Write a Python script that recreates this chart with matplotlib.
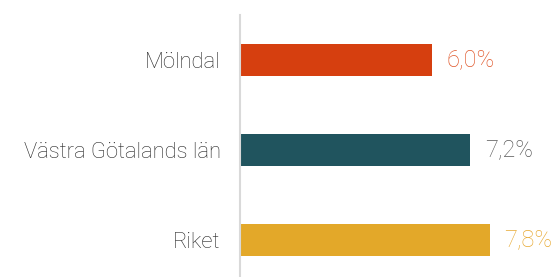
import matplotlib
matplotlib.use("Agg")
import matplotlib.pyplot as plt

categories = ["Mölndal", "Västra Götalands län", "Riket"]
values = [6.0, 7.2, 7.8]
value_labels = ["6,0%", "7,2%", "7,8%"]
bar_colors = ["#D63F0F", "#20545E", "#E3A829"]
label_colors = ["#E0572A", "#595959", "#E8AA35"]

plt.rcParams["font.family"] = ["Roboto", "DejaVu Sans"]

W, H = 556, 277
fig = plt.figure(figsize=(W / 100, H / 100), dpi=100)
ax = fig.add_axes([240 / W, 0, (W - 240) / W, (H - 15) / H])

ypos = list(range(len(categories)))
ax.barh(ypos, values, height=0.355, color=bar_colors)
for y, v, lab, c in zip(ypos, values, value_labels, label_colors):
    ax.annotate(lab, (v, y), xytext=(10.5, 0), textcoords="offset points",
                va="center", ha="left", fontsize=17, color=c, fontweight="light")

ax.set_xlim(0, (W - 240) / 32)
ax.set_ylim(2.41, -0.5)
ax.set_yticks(ypos)
ax.set_yticklabels(categories, fontsize=15.8, color="#262626", fontweight="light")
ax.tick_params(axis="y", length=0, pad=14)
ax.set_xticks([])
for s in ["top", "right", "bottom"]:
    ax.spines[s].set_visible(False)
ax.spines["left"].set_color("#D9D9D9")
ax.spines["left"].set_linewidth(1.5)

fig.savefig("out.png", dpi=100)
